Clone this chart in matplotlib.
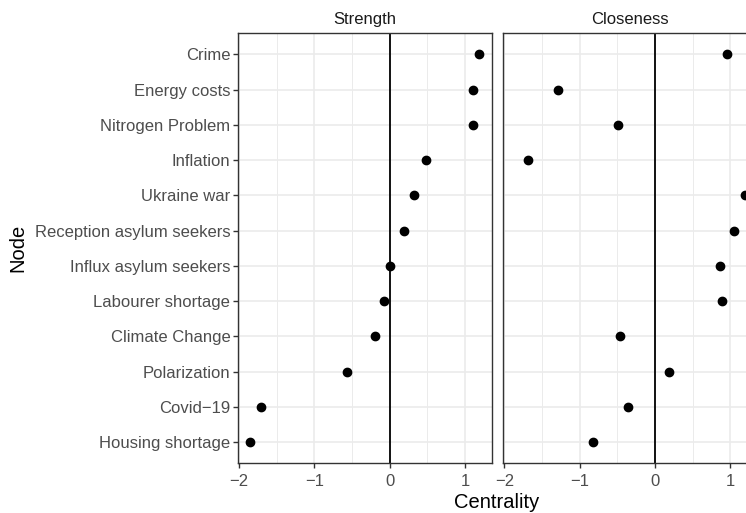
import matplotlib
matplotlib.use("Agg")
import matplotlib.pyplot as plt
import numpy as np

plt.rcParams['font.family'] = ['Liberation Sans', 'DejaVu Sans']

# nodes, top to bottom
nodes = ['Crime', 'Energy costs', 'Nitrogen Problem', 'Inflation', 'Ukraine war',
         'Reception asylum seekers', 'Influx asylum seekers', 'Labourer shortage',
         'Climate Change', 'Polarization', 'Covid\u221219', 'Housing shortage']
strength = [1.19, 1.11, 1.10, 0.48, 0.32, 0.19, 0.00, -0.08, -0.19, -0.57, -1.71, -1.86]
closeness = [0.95, -1.29, -0.49, -1.69, 1.20, 1.05, 0.86, 0.89, -0.46, 0.19, -0.36, -0.82]
panels = ['Strength', 'Closeness']
values = [strength, closeness]

fig = plt.figure(figsize=(7.46, 5.13), dpi=100)
W, H = 746, 513
bottom = 1 - 463.3 / H
height = 430 / H
lefts = [238 / W, 503.3 / W]
width = 253.7 / W

ypos = np.arange(len(nodes))[::-1] + 1
lo, hi = min(min(strength), min(closeness)), max(max(strength), max(closeness))
pad = 0.05 * (hi - lo)

grey20 = '#333333'
for i, (name, vals) in enumerate(zip(panels, values)):
    ax = fig.add_axes([lefts[i], bottom, width, height])
    ax.set_xlim(lo - pad, hi + pad)
    ax.set_ylim(0.4, len(nodes) + 0.6)
    ax.set_xticks([-2, -1, 0, 1])
    ax.set_xticks([-1.5, -0.5, 0.5], minor=True)
    ax.set_yticks(ypos)
    ax.grid(True, which='major', color='#ebebeb', lw=1.2)
    ax.grid(True, which='minor', axis='x', color='#ebebeb', lw=0.7)
    ax.set_axisbelow(True)
    ax.axvline(0, color='black', lw=1.3, zorder=2)
    ax.plot(vals, ypos, 'o', color='black', ms=6, zorder=3, clip_on=False)
    for s in ax.spines.values():
        s.set_color(grey20)
        s.set_linewidth(1.0)
    ax.tick_params(which='major', length=3.5, width=1.0, color=grey20,
                   labelsize=12, labelcolor='#4d4d4d', pad=2)
    ax.tick_params(axis='x', pad=4)
    ax.tick_params(which='minor', length=0)
    if i == 0:
        ax.set_yticklabels(nodes)
        ax.set_ylabel('Node', fontsize=14.5, labelpad=5)
    else:
        ax.tick_params(axis='y', left=False, labelleft=False)
    ax.set_title(name, fontsize=12, color='#1a1a1a', pad=7)

fig.text(497 / W, 1 - 503 / H, 'Centrality', fontsize=14.5, ha='center', va='center')

fig.savefig('out.png', dpi=100)
